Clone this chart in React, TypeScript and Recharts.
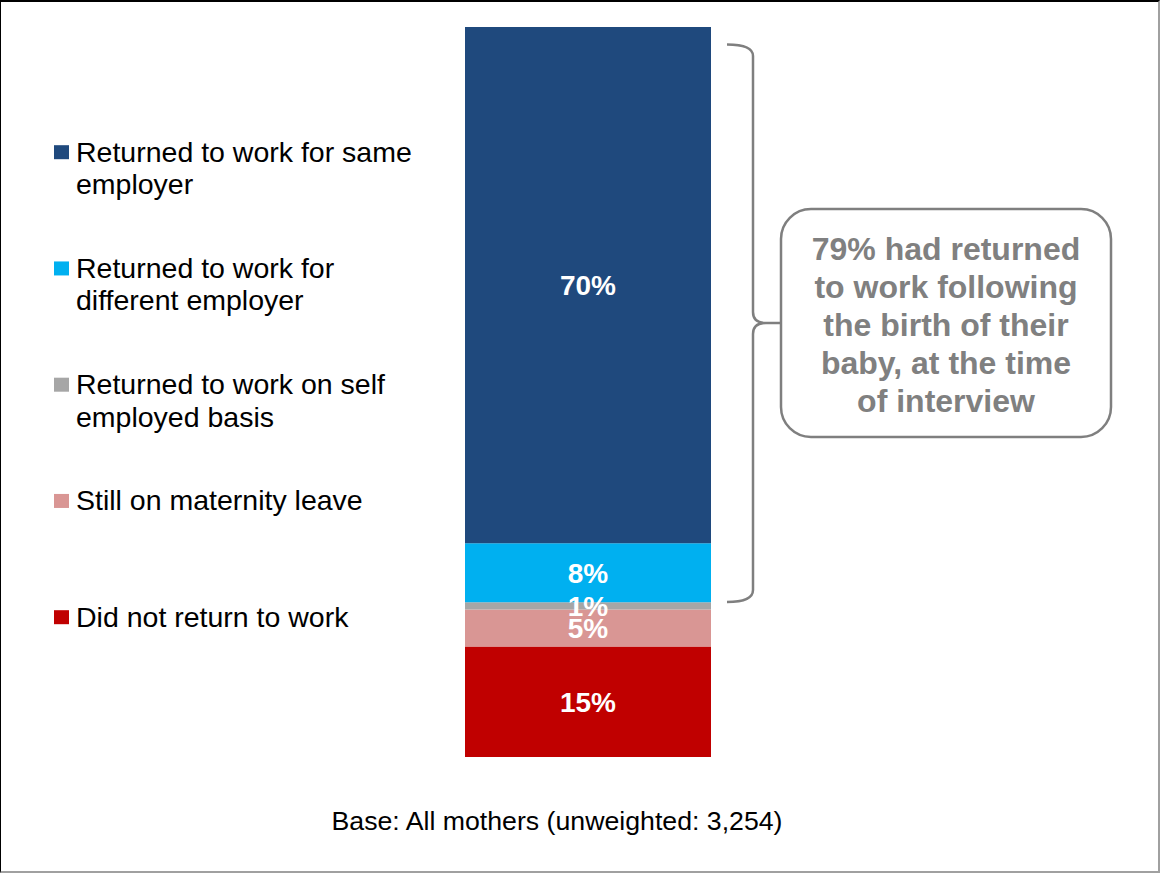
import React from "react";
import { BarChart, Bar, XAxis, YAxis, LabelList, Customized } from "recharts";

const categories = ["All mothers"];
const seriesNames = [
  "Did not return to work",
  "Still on maternity leave",
  "Returned to work on self employed basis",
  "Returned to work for different employer",
  "Returned to work for same employer",
];
const seriesKeys = ["notReturned", "maternity", "selfEmployed", "different", "same"];
const seriesValues = [15, 5, 1, 8, 70];
const seriesColors = ["#C00000", "#D99694", "#A6A6A6", "#00B0F0", "#1F497D"];

// legend, top to bottom (text lines as in the reference)
const legendOrder = [4, 3, 2, 1, 0];
const legendLines = [
  ["Did not return to work"],
  ["Still on maternity leave"],
  ["Returned to work on self", "employed basis"],
  ["Returned to work for", "different employer"],
  ["Returned to work for same", "employer"],
];
const calloutLines = [
  "79% had returned",
  "to work following",
  "the birth of their",
  "baby, at the time",
  "of interview",
];
const baseNote = "Base: All mothers (unweighted: 3,254)";

const data = categories.map((c) => {
  const row: Record<string, string | number> = { category: c };
  seriesKeys.forEach((k, i) => {
    row[k] = seriesValues[i];
  });
  return row;
});

const FONT = "'Liberation Sans', Arial, Helvetica, sans-serif";

const Overlay = () => (
  <g>
    {legendOrder.map((si, row) => {
      const baseY = 161.7 + row * 116.25;
      return (
        <g key={si}>
          <rect x={54} y={baseY - 16.5} width={15} height={14} fill={seriesColors[si]} />
          {legendLines[si].map((t, li) => (
            <text
              key={li}
              x={76}
              y={baseY + li * 32.5}
              fontSize={28.5}
              fontFamily={FONT}
              fill="#000"
            >
              {t}
            </text>
          ))}
        </g>
      );
    })}
    <path
      d="M727,44.5 Q753,44.5 753,56 V312 Q753,323 766,323 H781 M766,323 Q753,323 753,334 V590 Q753,602 727,602"
      fill="none"
      stroke="#7F7F7F"
      strokeWidth={2.5}
    />
    <rect
      x={781}
      y={209}
      width={330}
      height={228}
      rx={30}
      ry={30}
      fill="#fff"
      stroke="#7F7F7F"
      strokeWidth={2.5}
    />
    {calloutLines.map((t, i) => (
      <text
        key={i}
        x={946}
        y={260 + i * 38}
        textAnchor="middle"
        fontSize={32}
        fontWeight="bold"
        fontFamily={FONT}
        fill="#808080"
      >
        {t}
      </text>
    ))}
    <text
      x={557}
      y={830}
      textAnchor="middle"
      fontSize={26.7}
      fontFamily={FONT}
      fill="#000"
    >
      {baseNote}
    </text>
  </g>
);

export default function App() {
  return (
    <div style={{ position: "absolute", left: 0, top: 0, width: 1160, height: 873, background: "#fff" }}>
      <BarChart
        width={1160}
        height={873}
        data={data}
        margin={{ top: 27, right: 449, bottom: 116, left: 465 }}
        barCategoryGap={0}
      >
        <XAxis dataKey="category" hide />
        <YAxis hide domain={[0, 99]} />
        {seriesKeys.map((k, i) => (
          <Bar key={k} dataKey={k} name={seriesNames[i]} stackId="a" fill={seriesColors[i]} isAnimationActive={false}>
            <LabelList
              dataKey={k}
              position="center"
              formatter={(v: number) => `${v}%`}
              fill="#fff"
              fontSize={28}
              fontWeight="bold"
              fontFamily={FONT}
            />
          </Bar>
        ))}
        <Customized component={Overlay} />
      </BarChart>
      <div
        style={{
          position: "absolute",
          left: 0,
          top: 0,
          width: 1160,
          height: 873,
          boxSizing: "border-box",
          borderTop: "2px solid #000",
          borderLeft: "1px solid #000",
          borderRight: "2px solid #A0A0A0",
          borderBottom: "2px solid #A0A0A0",
          pointerEvents: "none",
        }}
      />
    </div>
  );
}
